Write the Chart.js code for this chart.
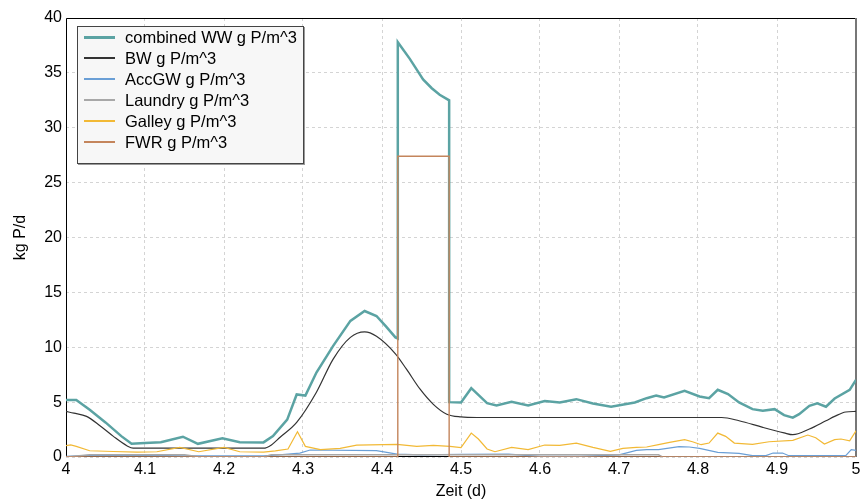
<!DOCTYPE html>
<html>
<head>
<meta charset="utf-8">
<script src="https://cdn.jsdelivr.net/npm/chart.js@4/dist/chart.umd.min.js"></script>
<style>
  body { margin: 0; background: #fff; }
  #wrap { position: relative; width: 866px; height: 503px; }
  #legend {
    position: absolute; left: 77px; top: 26px; width: 225px; height: 136px;
    border: 1px solid #444; background: #f7f7f7; box-shadow: 1px 1px 0 #999;
    font-family: "Liberation Sans", Arial, sans-serif; font-size: 16.5px; color: #000;
  }
  .row { position: absolute; left: 0; height: 21px; line-height: 21px; white-space: nowrap; }
  .row span.ln { position: absolute; left: 6px; width: 31px; display: block; }
  .row span.tx { position: absolute; left: 47px; }
</style>
</head>
<body>
<div id="wrap">
  <canvas id="chart" width="866" height="503"></canvas>
  <div id="legend"></div>
</div>
<script>
var seriesNames = ['combined WW g P/m^3', 'BW g P/m^3', 'AccGW g P/m^3', 'Laundry g P/m^3', 'Galley g P/m^3', 'FWR g P/m^3'];
var seriesColors = ['#5ba3a3', '#333333', '#6a9fd6', '#a8a8a8', '#f2b935', '#c4855c'];
var seriesWidths = [2.5, 1.2, 1.2, 1.6, 1.2, 1.4];

// combined WW
var wwX = [4.0, 4.013, 4.03, 4.05, 4.07, 4.083, 4.10, 4.12, 4.148, 4.167, 4.198, 4.22, 4.25, 4.262, 4.28, 4.292, 4.303,
  4.317, 4.338, 4.36, 4.378, 4.393, 4.405, 4.417, 4.42, 4.42, 4.435, 4.444, 4.452, 4.463, 4.473, 4.485, 4.485,
  4.50, 4.513, 4.533, 4.545, 4.564, 4.585, 4.606, 4.625, 4.646, 4.667, 4.69, 4.72, 4.735, 4.747, 4.757, 4.783,
  4.802, 4.814, 4.825, 4.838, 4.852, 4.869, 4.882, 4.897, 4.909, 4.92, 4.928, 4.941, 4.951, 4.962, 4.973, 4.992, 5.0];
var wwY = [5.2, 5.2, 4.3, 3.15, 1.9, 1.2, 1.27, 1.35, 1.85, 1.2, 1.7, 1.35, 1.33, 1.9, 3.4, 5.7, 5.6,
  7.7, 10.1, 12.4, 13.3, 12.85, 11.9, 10.9, 10.8, 37.8, 36.3, 35.3, 34.4, 33.6, 33.0, 32.5, 5.0,
  4.97, 6.27, 4.9, 4.7, 5.03, 4.7, 5.1, 4.97, 5.27, 4.88, 4.57, 4.97, 5.36, 5.6, 5.42, 6.03,
  5.52, 5.36, 6.12, 5.73, 4.97, 4.36, 4.21, 4.36, 3.82, 3.58, 3.9, 4.67, 4.9, 4.58, 5.33, 6.12, 7.03];

// BW
var bwX = [4.0, 4.01, 4.026, 4.043, 4.06, 4.077, 4.085, 4.25, 4.26, 4.271, 4.292, 4.317, 4.338, 4.36, 4.378, 4.393,
  4.417, 4.431, 4.448, 4.465, 4.482, 4.5, 4.52, 4.83, 4.852, 4.882, 4.909, 4.92, 4.941, 4.962, 4.973, 4.987, 5.0];
var bwY = [4.15, 4.0, 3.7, 2.85, 1.88, 1.03, 0.8, 0.8, 1.1, 1.8, 3.15, 5.9, 8.9, 10.9, 11.4, 11.0,
  9.4, 8.0, 6.2, 4.8, 3.9, 3.65, 3.6, 3.6, 3.3, 2.7, 2.2, 2.03, 2.55, 3.3, 3.7, 4.1, 4.15];

// AccGW
var accX = [4.0, 4.03, 4.1, 4.15, 4.25, 4.27, 4.296, 4.309, 4.393, 4.419, 4.45, 4.5, 4.56, 4.6, 4.65, 4.7, 4.722,
  4.735, 4.75, 4.776, 4.789, 4.802, 4.825, 4.852, 4.869, 4.886, 4.895, 4.907, 4.915, 4.987, 4.994, 5.0];
var accY = [0.05, 0.15, 0.15, 0.1, 0.1, 0.2, 0.36, 0.64, 0.58, 0.27, 0.2, 0.25, 0.27, 0.05, 0.05, 0.2, 0.6,
  0.67, 0.67, 0.94, 0.91, 0.79, 0.42, 0.33, 0.12, 0.12, 0.36, 0.36, 0.12, 0.12, 0.67, 0.6];

// Laundry
var laundryX = [4.0, 4.03, 4.15, 4.17, 4.25, 4.26, 4.75, 4.755, 5.0];
var laundryY = [0, 0.2, 0.2, 0, 0, 0.2, 0.2, 0, 0];

// Galley
var galleyX = [4.0, 4.006, 4.013, 4.03, 4.06, 4.09, 4.115, 4.144, 4.168, 4.2, 4.22, 4.25, 4.265, 4.281, 4.293, 4.303,
  4.322, 4.347, 4.368, 4.419, 4.444, 4.465, 4.486, 4.5, 4.513, 4.522, 4.533, 4.543, 4.564, 4.585, 4.606, 4.625,
  4.646, 4.667, 4.689, 4.705, 4.722, 4.735, 4.75, 4.764, 4.783, 4.793, 4.804, 4.814, 4.825, 4.835, 4.846, 4.869,
  4.89, 4.92, 4.939, 4.949, 4.96, 4.973, 4.981, 4.992, 5.0];
var galleyY = [1.03, 1.1, 0.97, 0.57, 0.5, 0.45, 0.48, 0.88, 0.48, 0.88, 0.48, 0.45, 0.55, 0.73, 2.3, 0.97,
  0.67, 0.79, 1.09, 1.15, 0.97, 1.06, 0.97, 0.86, 2.18, 1.64, 0.73, 0.48, 0.88, 0.67, 1.09, 1.06,
  1.27, 0.88, 0.52, 0.79, 0.88, 0.91, 1.12, 1.33, 1.58, 1.39, 1.12, 1.27, 2.18, 1.88, 1.27, 1.15,
  1.39, 1.52, 2.0, 1.76, 1.18, 1.58, 1.64, 1.48, 2.39];

// FWR
var fwrX = [4.0, 4.42, 4.42, 4.485, 4.485, 5.0];
var fwrY = [0, 0, 27.4, 27.4, 0, 0];

var allX = [wwX, bwX, accX, laundryX, galleyX, fwrX];
var allY = [wwY, bwY, accY, laundryY, galleyY, fwrY];

function pts(xs, ys) {
  var out = [];
  for (var i = 0; i < xs.length; i++) out.push({x: xs[i], y: ys[i]});
  return out;
}

var datasets = [];
for (var i = 0; i < seriesNames.length; i++) {
  datasets.push({
    label: seriesNames[i],
    data: pts(allX[i], allY[i]),
    borderColor: seriesColors[i],
    borderWidth: seriesWidths[i],
    pointRadius: 0,
    tension: 0,
    cubicInterpolationMode: i == 1 ? 'monotone' : 'default',
    fill: false,
    order: seriesNames.length - i
  });
}

var frame = {
  id: 'frame',
  beforeDatasetsDraw: function(chart) {
    var a = chart.chartArea, ctx = chart.ctx;
    ctx.save();
    ctx.lineWidth = 1;
    ctx.strokeStyle = '#000';
    ctx.beginPath();
    ctx.moveTo(a.left + 0.5, a.bottom);
    ctx.lineTo(a.left + 0.5, a.top + 0.5);
    ctx.lineTo(a.right, a.top + 0.5);
    ctx.moveTo(a.left, a.bottom - 0.5);
    ctx.lineTo(a.right, a.bottom - 0.5);
    ctx.stroke();
    ctx.lineWidth = 2;
    ctx.strokeStyle = '#777';
    ctx.beginPath();
    ctx.moveTo(a.right, a.top);
    ctx.lineTo(a.right, a.bottom);
    ctx.stroke();
    ctx.restore();
  }
};

var tickFont = {family: 'Liberation Sans', size: 16};
var gridStyle = {color: '#d4d4d4', lineWidth: 1, drawTicks: false};

var chart = new Chart(document.getElementById('chart').getContext('2d'), {
  type: 'line',
  data: {datasets: datasets},
  options: {
    responsive: false,
    animation: false,
    layout: {padding: {top: 18, right: 10, bottom: 0, left: 0}},
    plugins: {legend: {display: false}, tooltip: {enabled: false}},
    scales: {
      x: {
        type: 'linear', min: 4, max: 5,
        ticks: {stepSize: 0.1, color: '#000', font: tickFont, padding: 3, maxRotation: 0,
          callback: function(v) { return String(Number(v.toFixed(2))); }},
        grid: gridStyle,
        border: {display: false, dash: [3, 3]},
        title: {display: true, text: 'Zeit (d)', color: '#000', font: tickFont, padding: {top: 0, bottom: 2}},
        afterFit: function(s) { s.height = 46; }
      },
      y: {
        min: 0, max: 40,
        ticks: {stepSize: 5, color: '#000', font: tickFont, padding: 4},
        grid: gridStyle,
        border: {display: false, dash: [3, 3]},
        title: {display: true, text: 'kg P/d', color: '#000', font: tickFont, padding: {top: 11, bottom: 0}},
        afterFit: function(s) { s.width = 66; }
      }
    }
  },
  plugins: [frame]
});

// legend inside the plot, like the original
var leg = document.getElementById('legend');
for (var j = 0; j < seriesNames.length; j++) {
  var row = document.createElement('div');
  row.className = 'row';
  row.style.top = (j * 20.9) + 'px';
  var ln = document.createElement('span');
  ln.className = 'ln';
  var h = Math.max(2, Math.round(seriesWidths[j]));
  ln.style.height = h + 'px';
  ln.style.top = (10.5 - h / 2) + 'px';
  ln.style.background = seriesColors[j];
  var tx = document.createElement('span');
  tx.className = 'tx';
  tx.textContent = seriesNames[j];
  row.appendChild(ln);
  row.appendChild(tx);
  leg.appendChild(row);
}
</script>
</body>
</html>
